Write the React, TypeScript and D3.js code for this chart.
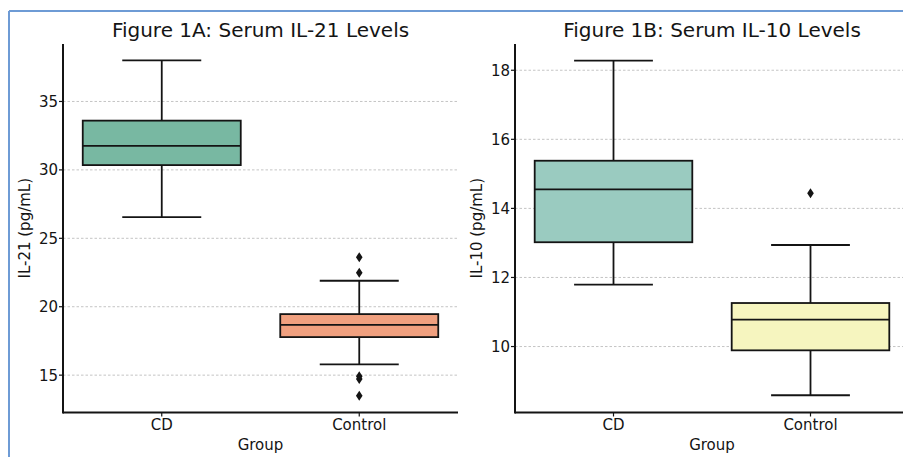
import React from "react";
import * as d3 from "d3";

const groups = ["CD", "Control"];

// Figure 1A: IL-21 box statistics [whiskerLow, q1, median, q3, whiskerHigh]
const il21Stats = [
  [26.55, 30.35, 31.75, 33.6, 38.0],
  [15.78, 17.78, 18.68, 19.46, 21.9],
];
const il21Outliers = [[], [23.62, 22.48, 14.92, 14.72, 13.49]];
const il21Ticks = [15, 20, 25, 30, 35];
const il21Colors = ["#78b8a2", "#f0a07f"];

// Figure 1B: IL-10 box statistics
const il10Stats = [
  [11.79, 13.02, 14.55, 15.38, 18.28],
  [8.59, 9.89, 10.78, 11.26, 12.94],
];
const il10Outliers = [[], [14.44]];
const il10Ticks = [10, 12, 14, 16, 18];
const il10Colors = ["#9acbc0", "#f6f5bf"];

const FONT = "DejaVu Sans, sans-serif";
const INK = "#141414";

type PanelProps = {
  x0: number;
  x1: number;
  yTop: number;
  yBottom: number;
  domain: [number, number];
  stats: number[][];
  outliers: number[][];
  ticks: number[];
  colors: string[];
  title: string;
  yLabel: string;
  clipRight: number;
};

function Panel(p: PanelProps) {
  const x = d3.scaleBand<string>().domain(groups).range([p.x0, p.x1]).paddingInner(0).paddingOuter(0);
  const y = d3.scaleLinear().domain(p.domain).range([p.yBottom, p.yTop]);
  const bw = x.bandwidth() * 0.8;
  const capW = bw / 2;
  const visRight = Math.min(p.x1, p.clipRight);
  const cx = (p.x0 + p.x1) / 2;
  const sw = 1.8;
  return (
    <g>
      {p.ticks.map((t) => (
        <line
          key={"g" + t}
          x1={p.x0}
          x2={visRight}
          y1={y(t)}
          y2={y(t)}
          stroke="#b5b5b5"
          strokeWidth={0.8}
          strokeDasharray="2.5,2"
        />
      ))}
      {groups.map((g, i) => {
        const c = (x(g) as number) + x.bandwidth() / 2;
        const [wl, q1, med, q3, wh] = p.stats[i];
        return (
          <g key={g}>
            <line x1={c} x2={c} y1={y(q3)} y2={y(wh)} stroke={INK} strokeWidth={sw} />
            <line x1={c} x2={c} y1={y(q1)} y2={y(wl)} stroke={INK} strokeWidth={sw} />
            <line x1={c - capW / 2} x2={c + capW / 2} y1={y(wh)} y2={y(wh)} stroke={INK} strokeWidth={sw} />
            <line x1={c - capW / 2} x2={c + capW / 2} y1={y(wl)} y2={y(wl)} stroke={INK} strokeWidth={sw} />
            <rect
              x={c - bw / 2}
              y={y(q3)}
              width={bw}
              height={y(q1) - y(q3)}
              fill={p.colors[i]}
              stroke={INK}
              strokeWidth={sw}
            />
            <line x1={c - bw / 2} x2={c + bw / 2} y1={y(med)} y2={y(med)} stroke={INK} strokeWidth={sw} />
            {p.outliers[i].map((o, k) => (
              <path
                key={k}
                d={`M${c},${y(o) - 5}L${c + 3.3},${y(o)}L${c},${y(o) + 5}L${c - 3.3},${y(o)}Z`}
                fill={INK}
              />
            ))}
            <line x1={c} x2={c} y1={p.yBottom} y2={p.yBottom + 4} stroke={INK} strokeWidth={1.2} />
            <text x={c} y={p.yBottom + 17} textAnchor="middle" fontSize={15} fontFamily={FONT} fill={INK}>
              {g}
            </text>
          </g>
        );
      })}
      {p.ticks.map((t) => (
        <g key={"t" + t}>
          <line x1={p.x0 - 4} x2={p.x0} y1={y(t)} y2={y(t)} stroke={INK} strokeWidth={1.2} />
          <text
            x={p.x0 - 5}
            y={y(t)}
            dy="0.36em"
            textAnchor="end"
            fontSize={15}
            fontFamily={FONT}
            fill={INK}
          >
            {t}
          </text>
        </g>
      ))}
      <line x1={p.x0} x2={p.x0} y1={p.yTop} y2={p.yBottom + 1} stroke={INK} strokeWidth={2} />
      <line x1={p.x0} x2={visRight} y1={p.yBottom} y2={p.yBottom} stroke={INK} strokeWidth={2} />
      <text x={cx} y={37} textAnchor="middle" fontSize={20} fontFamily={FONT} fill={INK}>
        {p.title}
      </text>
      <text x={cx} y={450} textAnchor="middle" fontSize={15} fontFamily={FONT} fill={INK}>
        Group
      </text>
      <text
        transform={`translate(${p.x0 - 33},${(p.yTop + p.yBottom) / 2}) rotate(-90)`}
        textAnchor="middle"
        fontSize={15}
        fontFamily={FONT}
        fill={INK}
      >
        {p.yLabel}
      </text>
    </g>
  );
}

export default function App() {
  const W = 903;
  const H = 457;
  return (
    <svg
      width={W}
      height={H}
      style={{ position: "absolute", left: 0, top: 0, background: "#ffffff" }}
    >
      <rect x={0} y={0} width={W} height={H} fill="#ffffff" />
      <line x1={9} x2={W} y1={11} y2={11} stroke="#6e9bd5" strokeWidth={2} />
      <line x1={9} x2={9} y1={11} y2={H} stroke="#6e9bd5" strokeWidth={2} />
      <Panel
        x0={63}
        x1={458}
        yTop={44}
        yBottom={412.5}
        domain={[12.27, 39.2]}
        stats={il21Stats}
        outliers={il21Outliers}
        ticks={il21Ticks}
        colors={il21Colors}
        title="Figure 1A: Serum IL-21 Levels"
        yLabel="IL-21 (pg/mL)"
        clipRight={W}
      />
      <Panel
        x0={515}
        x1={909}
        yTop={44}
        yBottom={412.5}
        domain={[8.09, 18.76]}
        stats={il10Stats}
        outliers={il10Outliers}
        ticks={il10Ticks}
        colors={il10Colors}
        title="Figure 1B: Serum IL-10 Levels"
        yLabel="IL-10 (pg/mL)"
        clipRight={W}
      />
    </svg>
  );
}
